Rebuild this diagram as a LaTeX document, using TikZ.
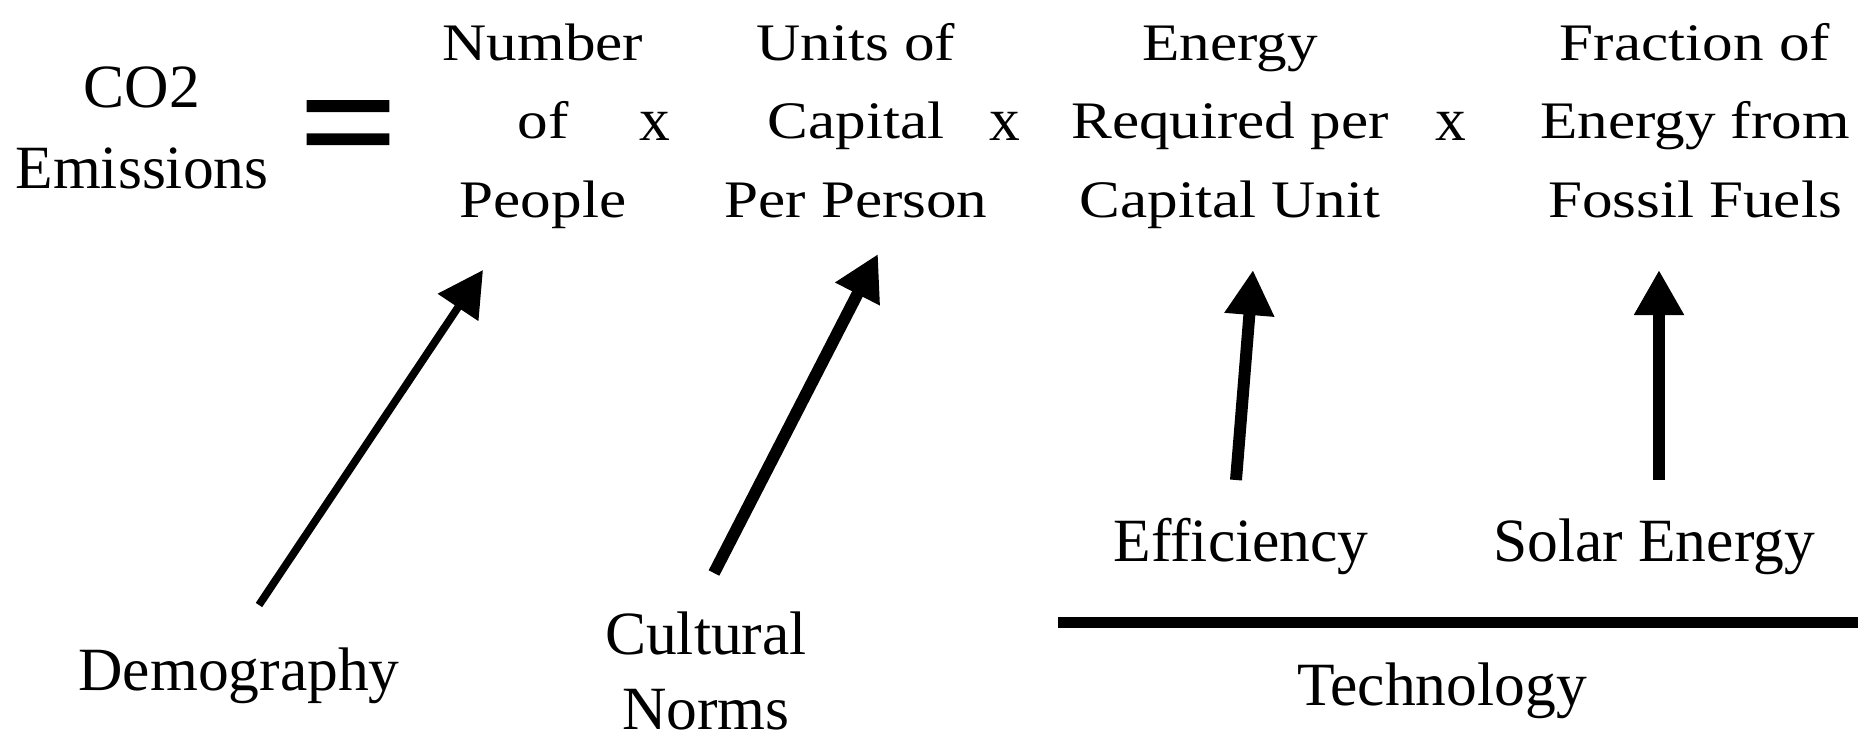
\documentclass[tikz,border=0pt]{standalone}
\usepackage{fontspec}
\setmainfont{Liberation Serif}
\newfontfamily\widefont[FakeStretch=1.16]{Liberation Serif}
\newfontfamily\eqfont[FakeBold=2.2,FakeStretch=1.03]{Liberation Serif}
\usetikzlibrary{arrows.meta}

\tikzset{
  lhs/.style={font=\fontsize{17.5}{22.8}\selectfont, inner sep=0pt, align=center, anchor=base},
  factor/.style={font=\widefont\fontsize{15}{22.2}\selectfont, inner sep=0pt, align=center, anchor=base},
  cause/.style={font=\fontsize{17.5}{21.3}\selectfont, inner sep=0pt, align=center, anchor=base},
  times/.style={font=\fontsize{17.5}{21}\selectfont, inner sep=0pt, anchor=base},
  push/.style={-{Triangle[length=0.45cm,width=0.47cm]}, line width=3.4pt},
}

\begin{document}
\begin{tikzpicture}
\useasboundingbox (0,0) rectangle (18.75,-7.38);

% left hand side
\node[lhs] (co2) at (1.42,-1.88) {CO2\\Emissions};
\node[lhs, font=\eqfont\fontsize{47}{47}\selectfont] (eq) at (3.48,-1.775) {=};

% the four factors
\node[factor] (people) at (5.43,-2.17) {Number\\of\\People};
\node[times] (x1) at (6.55,-1.40) {x};
\node[factor] (capita) at (8.56,-2.17) {Units of\\Capital\\Per Person};
\node[times] (x2) at (10.05,-1.40) {x};
\node[factor] (energy) at (12.30,-2.17) {Energy\\Required per\\Capital Unit};
\node[times] (x3) at (14.51,-1.40) {x};
\node[factor] (fossil) at (16.95,-2.17) {Fraction of\\Energy from\\Fossil Fuels};

% what drives them
\node[cause] (demo) at (2.39,-6.90) {Demography};
\node[cause] (norms) at (7.06,-7.29) {Cultural\\Norms};
\node[cause] (eff) at (12.41,-5.61) {Efficiency};
\node[cause] (solar) at (16.54,-5.61) {Solar Energy};
\node[cause] (tech) at (14.42,-7.05) {Technology};

\coordinate (demoTail) at (2.59,-6.05);
\coordinate (peopleTip) at (4.83,-2.70);
\coordinate (normsTail) at (7.14,-5.73);
\coordinate (capitaTip) at (8.78,-2.54);
\coordinate (effTail) at (12.36,-4.80);
\coordinate (energyTip) at (12.53,-2.70);
\coordinate (solarTail) at (16.59,-4.80);
\coordinate (fossilTip) at (16.59,-2.70);

\draw[push, line width=2.2pt] (demoTail) -- (peopleTip);
\draw[push] (normsTail) -- (capitaTip);
\draw[push] (effTail) -- (energyTip);
\draw[push] (solarTail) -- (fossilTip);

% technology groups the last two
\draw[line width=3.3pt] (10.58,-6.225) -- (18.58,-6.225);
\end{tikzpicture}
\end{document}
